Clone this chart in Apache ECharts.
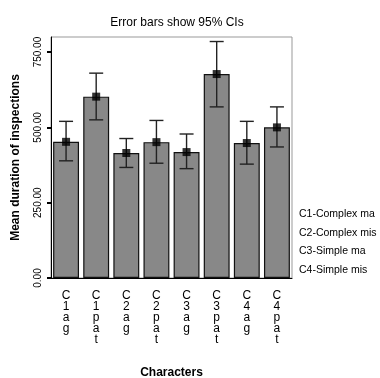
<!DOCTYPE html>
<html><head><meta charset="utf-8">
<script src="https://cdn.jsdelivr.net/npm/echarts@6/dist/echarts.min.js"></script>
<style>html,body{margin:0;padding:0;background:#fff}#c{width:380px;height:378px}</style>
</head><body><div id="c"></div>
<script>
var categories = ['C1ag','C1pat','C2ag','C2pat','C3ag','C3pat','C4ag','C4pat'];
var means = [452, 602, 415, 451, 418, 677, 448, 500];
var ciLow = [389, 525, 367, 381, 363, 568, 378, 435];
var ciHigh = [520, 680, 463, 523, 478, 785, 520, 568];
var yTicks = [0, 250, 500, 750];
var legendLines = ['C1-Complex ma', 'C2-Complex mis', 'C3-Simple ma', 'C4-Simple mis'];
var titleText = 'Error bars show 95% CIs';
var xTitle = 'Characters';
var yTitle = 'Mean duration of inspections';

var FONT = 'Liberation Sans, Arial, sans-serif';
var chart = echarts.init(document.getElementById('c'), null, {renderer:'canvas'});
var errData = categories.map(function(c,i){ return [i, ciLow[i], ciHigh[i]]; });

chart.setOption({
  animation: false,
  title: { text: titleText, left: 172, top: 12, textAlign: 'center',
    textStyle: { fontFamily: FONT, fontSize: 12, fontWeight: 'normal', color: '#000' } },
  grid: { left: 51, right: 88, top: 37, bottom: 100, containLabel: false, outerBoundsMode: 'none',
    show: true, borderColor: '#999', borderWidth: 1, backgroundColor: '#fff' },
  xAxis: {
    type: 'category', data: categories,
    axisLine: { lineStyle: { color: '#000', width: 1 } },
    axisTick: { alignWithLabel: true, length: 5, lineStyle: { color: '#000', width: 2 } },
    axisLabel: { margin: 12, fontFamily: FONT, fontSize: 12, color: '#000', lineHeight: 11, verticalAlign: 'top',
      formatter: function(v){ return v.split('').join('\n'); } },
    name: xTitle, nameLocation: 'middle', nameGap: 89,
    nameTextStyle: { fontFamily: FONT, fontSize: 12, fontWeight: 'bold', color: '#000' }
  },
  yAxis: {
    type: 'value', min: 0, max: 800,
    splitLine: { show: false },
    axisLine: { show: true, lineStyle: { color: '#000', width: 1 } },
    axisTick: { show: true, length: 4, customValues: yTicks, lineStyle: { color: '#000', width: 2 } },
    axisLabel: { rotate: 90, margin: 8, fontFamily: FONT, fontSize: 10, color: '#000', customValues: yTicks,
      formatter: function(v){ return v.toFixed(2); } },
    name: yTitle, nameLocation: 'middle', nameGap: 29, nameRotate: 90,
    nameTextStyle: { fontFamily: FONT, fontSize: 12, fontWeight: 'bold', color: '#000' }
  },
  series: [
    { type: 'bar', data: means, barCategoryGap: '14%',
      itemStyle: { color: '#888888', borderColor: '#111', borderWidth: 1.2 } },
    { type: 'custom', data: errData, z: 5,
      renderItem: function(params, api){
        var x = api.value(0);
        var lo = api.coord([x, api.value(1)]);
        var hi = api.coord([x, api.value(2)]);
        var w = 7;
        var st = { stroke: '#222', lineWidth: 1.4 };
        return { type: 'group', children: [
          { type: 'line', shape: { x1: lo[0], y1: lo[1], x2: hi[0], y2: hi[1] }, style: st },
          { type: 'line', shape: { x1: lo[0]-w, y1: lo[1], x2: lo[0]+w, y2: lo[1] }, style: st },
          { type: 'line', shape: { x1: hi[0]-w, y1: hi[1], x2: hi[0]+w, y2: hi[1] }, style: st }
        ]};
      } },
    { type: 'scatter', data: means, symbol: 'rect', symbolSize: 8, z: 6,
      itemStyle: { color: '#000' } }
  ],
  graphic: legendLines.map(function(t, i){
    return { type: 'text', left: 299, top: 209 + i * 18.5,
      style: { text: t, fontFamily: FONT, fontSize: 10.5, fill: '#000' } };
  })
});
</script></body></html>
